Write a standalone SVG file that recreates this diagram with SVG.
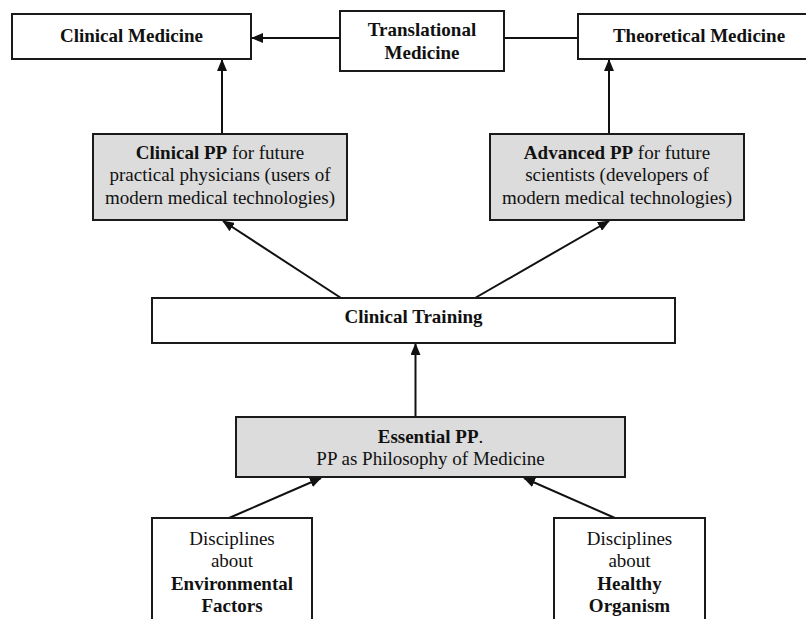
<svg xmlns="http://www.w3.org/2000/svg" width="806" height="619" viewBox="0 0 806 619">
<style>
  .box { fill: #ffffff; stroke: #1a1a1a; stroke-width: 2; }
  .gray { fill: #dcdcdc; stroke: #1a1a1a; stroke-width: 2; }
  text { font-family: "Liberation Serif", "Times New Roman", serif; font-size: 19px; fill: #111; text-anchor: middle; }
  .b { font-weight: bold; }
  .conn line { stroke: #111; stroke-width: 2; }
</style>
<defs>
  <marker id="arr" markerUnits="userSpaceOnUse" markerWidth="12" markerHeight="10" refX="11" refY="5" orient="auto">
    <path d="M0,0 L12,5 L0,10 Z" fill="#111"/>
  </marker>
</defs>
<rect width="806" height="619" fill="#ffffff"/>

<g id="connectors" class="conn">
  <line x1="340" y1="38" x2="252" y2="38" marker-end="url(#arr)"/>
  <line x1="504" y1="38" x2="578" y2="38"/>
  <line x1="222" y1="134" x2="222" y2="60" marker-end="url(#arr)"/>
  <line x1="609" y1="134" x2="609" y2="60" marker-end="url(#arr)"/>
  <line x1="341" y1="298" x2="223" y2="221" marker-end="url(#arr)"/>
  <line x1="475" y1="298" x2="609" y2="221" marker-end="url(#arr)"/>
  <line x1="415.5" y1="417" x2="415.5" y2="344" marker-end="url(#arr)"/>
  <line x1="229" y1="518" x2="321" y2="478" marker-end="url(#arr)"/>
  <line x1="615" y1="518" x2="524" y2="478" marker-end="url(#arr)"/>
</g>

<g id="clinical-medicine">
  <rect class="box" x="12" y="14" width="239" height="45"/>
  <text class="b" x="131.5" y="42">Clinical Medicine</text>
</g>
<g id="translational-medicine">
  <rect class="box" x="340" y="11" width="164" height="60"/>
  <text class="b" x="422" y="36">Translational</text>
  <text class="b" x="422" y="59">Medicine</text>
</g>
<g id="theoretical-medicine">
  <rect class="box" x="578" y="14" width="236" height="45"/>
  <text class="b" x="699" y="42">Theoretical Medicine</text>
</g>
<g id="clinical-pp">
  <rect class="gray" x="93" y="134" width="254" height="86"/>
  <text x="220" y="158.5"><tspan class="b">Clinical PP</tspan> for future</text>
  <text x="220" y="181">practical physicians (users of</text>
  <text x="220" y="203.5">modern medical technologies)</text>
</g>
<g id="advanced-pp">
  <rect class="gray" x="490" y="134" width="254" height="86"/>
  <text x="617" y="158.5"><tspan class="b">Advanced PP</tspan> for future</text>
  <text x="617" y="181">scientists (developers of</text>
  <text x="617" y="203.5">modern medical technologies)</text>
</g>
<g id="clinical-training">
  <rect class="box" x="152" y="298" width="523" height="45"/>
  <text class="b" x="413.5" y="323">Clinical Training</text>
</g>
<g id="essential-pp">
  <rect class="gray" x="236" y="417" width="389" height="60"/>
  <text x="430.5" y="442.5"><tspan class="b">Essential PP</tspan>.</text>
  <text x="430.5" y="465">PP as Philosophy of Medicine</text>
</g>
<g id="environmental-factors">
  <rect class="box" x="152" y="518" width="160" height="120"/>
  <text x="232" y="545">Disciplines</text>
  <text x="232" y="567">about</text>
  <text class="b" x="232" y="590">Environmental</text>
  <text class="b" x="232" y="612">Factors</text>
</g>
<g id="healthy-organism">
  <rect class="box" x="554" y="518" width="151" height="120"/>
  <text x="629.5" y="545">Disciplines</text>
  <text x="629.5" y="567">about</text>
  <text class="b" x="629.5" y="590">Healthy</text>
  <text class="b" x="629.5" y="612">Organism</text>
</g>
</svg>
